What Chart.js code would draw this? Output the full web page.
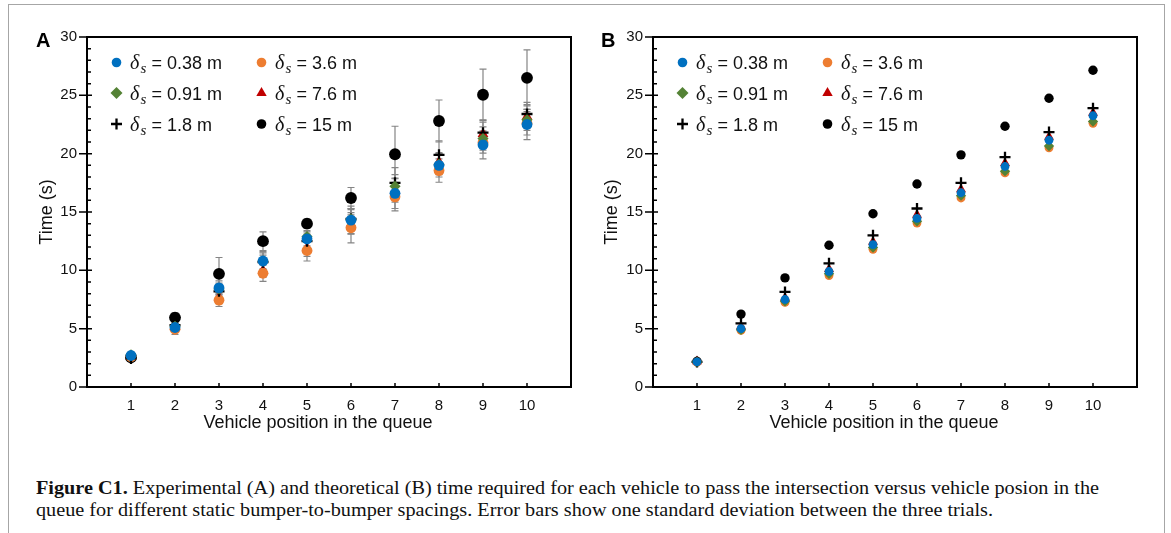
<!DOCTYPE html>
<html><head><meta charset="utf-8">
<script src="https://cdn.jsdelivr.net/npm/chart.js@4.4.0/dist/chart.umd.min.js"></script>
<style>
html,body{margin:0;padding:0;background:#fff;width:1171px;height:533px;overflow:hidden;position:relative;}
#frame{position:absolute;left:8px;top:4px;width:1155px;height:600px;border:1.5px solid #a6a6a6;}
canvas{position:absolute;top:0;}
#cA{left:0px;}
#cB{left:565px;}
.cap{position:absolute;left:36px;font-family:"Liberation Serif",serif;font-size:19px;line-height:22px;white-space:nowrap;transform-origin:0 0;color:#111;}
</style></head><body>
<div id="frame"></div>
<canvas id="cA" width="600" height="440"></canvas>
<canvas id="cB" width="600" height="440"></canvas>
<div class="cap" id="cap1"><b>Figure C1.</b> Experimental (A) and theoretical (B) time required for each vehicle to pass the intersection versus vehicle posion in the</div>
<div class="cap" id="cap2">queue for different static bumper-to-bumper spacings. Error bars show one standard deviation between the three trials.</div>
<script>
// ---------- data ----------
const positions = [1, 2, 3, 4, 5, 6, 7, 8, 9, 10];
const yTickValues = [0, 5, 10, 15, 20, 25, 30];
const spacingLabels = ['0.38', '0.91', '1.8', '3.6', '7.6', '15'];

// Panel A: experimental mean times (s)
const expS038 = [2.7, 5.1, 8.5, 10.8, 12.7, 14.3, 16.6, 19.0, 20.75, 22.5];
const expS091 = [2.75, 5.2, 8.4, 10.8, 12.9, 14.4, 17.2, 19.1, 21.3, 22.9];
const expS18  = [2.45, 5.3, 8.2, 10.7, 12.5, 14.4, 17.5, 19.9, 21.8, 23.4];
const expS36  = [2.6, 4.95, 7.45, 9.75, 11.7, 13.65, 16.3, 18.55, 20.95, 22.6];
const expS76  = [2.6, 5.15, 7.65, 10.0, 11.9, 13.95, 16.85, 19.3, 21.7, 23.2];
const expS15  = [2.55, 5.95, 9.7, 12.5, 14.0, 16.2, 19.95, 22.8, 25.05, 26.5];

// Panel A: standard deviations (s)
const errS038 = [0.3, 0.3, 0.6, 0.8, 0.6, 1.2, 1.3, 1.0, 1.2, 1.3];
const errS091 = [0.2, 0.3, 0.5, 0.7, 0.5, 0.8, 1.0, 0.9, 1.0, 0.9];
const errS18  = [0.2, 0.3, 0.5, 0.6, 0.6, 0.9, 1.3, 1.2, 1.1, 1.0];
const errS36  = [0.3, 0.45, 0.55, 0.7, 0.9, 1.3, 1.2, 1.0, 0.9, 1.0];
const errS76  = [0.2, 0.3, 0.5, 0.6, 0.7, 0.8, 1.0, 0.8, 1.0, 1.0];
const errS15  = [0.3, 0.4, 1.4, 0.8, 0.4, 0.9, 2.4, 1.8, 2.2, 2.4];

// Panel B: theoretical times (s)
const thS038 = [2.15, 5.0, 7.5, 9.9, 12.2, 14.45, 16.65, 18.9, 21.15, 23.25];
const thS091 = [2.15, 4.9, 7.35, 9.7, 11.95, 14.2, 16.4, 18.5, 20.65, 22.75];
const thS18  = [2.15, 5.45, 8.15, 10.6, 13.0, 15.3, 17.5, 19.7, 21.85, 23.9];
const thS36  = [2.1, 4.85, 7.25, 9.55, 11.8, 14.05, 16.2, 18.35, 20.5, 22.6];
const thS76  = [2.2, 5.2, 7.65, 10.1, 12.45, 14.75, 16.95, 19.2, 21.45, 23.5];
const thS15  = [2.2, 6.25, 9.35, 12.15, 14.85, 17.4, 19.9, 22.35, 24.75, 27.15];

// ---------- styles ----------
const seriesStyles = [
  {pointStyle: 'circle',   color: '#0070C0'},
  {pointStyle: 'rectRot',  color: '#548235'},
  {pointStyle: 'cross',    color: '#000000'},
  {pointStyle: 'circle',   color: '#ED7D31'},
  {pointStyle: 'triangle', color: '#C00000'},
  {pointStyle: 'circle',   color: '#000000'}
];

function buildDatasets(seriesList, big) {
  return seriesList.map((vals, k) => {
    const st = seriesStyles[k];
    let r;
    if (st.pointStyle === 'circle') r = big ? 5.4 : 4.4;
    else if (st.pointStyle === 'rectRot') r = big ? 5.6 : 5.2;
    else if (st.pointStyle === 'triangle') r = big ? 6.2 : 5.8;
    else r = 5.5;
    if (k === 5) r = big ? 5.9 : 4.7;
    const isCross = st.pointStyle === 'cross';
    return {
      label: 'δs = ' + spacingLabels[k] + ' m',
      data: positions.map((x, i) => ({x: x, y: vals[i]})),
      pointStyle: st.pointStyle,
      pointRadius: r,
      pointHoverRadius: r,
      backgroundColor: st.color,
      borderColor: st.color,
      borderWidth: isCross ? 2.3 : 0,
      showLine: false
    };
  });
}

function makePlugin(cfg) {
  return {
    id: 'decor',
    beforeDatasetsDraw(chart) {
      if (!cfg.errors) return;
      const ctx = chart.ctx, xs = chart.scales.x, ys = chart.scales.y;
      ctx.save();
      ctx.strokeStyle = '#858585';
      ctx.lineWidth = 1.2;
      chart.data.datasets.forEach((ds, k) => {
        const err = cfg.errors[k];
        ds.data.forEach((p, i) => {
          const px = xs.getPixelForValue(p.x);
          const y1 = ys.getPixelForValue(p.y + err[i]);
          const y2 = ys.getPixelForValue(p.y - err[i]);
          ctx.beginPath();
          ctx.moveTo(px, y1); ctx.lineTo(px, y2);
          ctx.moveTo(px - 3.5, y1); ctx.lineTo(px + 3.5, y1);
          ctx.moveTo(px - 3.5, y2); ctx.lineTo(px + 3.5, y2);
          ctx.stroke();
        });
      });
      ctx.restore();
    },
    afterDraw(chart) {
      const ctx = chart.ctx, a = chart.chartArea, xs = chart.scales.x, ys = chart.scales.y;
      ctx.save();
      ctx.strokeStyle = '#000';
      ctx.lineWidth = 2;
      ctx.strokeRect(a.left, a.top, a.right - a.left, a.bottom - a.top);
      ctx.lineWidth = 1.5;
      ctx.beginPath();
      for (let v = ys.min; v <= ys.max; v += 1) {
        const py = ys.getPixelForValue(v);
        if (v % 5 === 0) { ctx.moveTo(a.left - 8, py); ctx.lineTo(a.left + 5, py); }
        else { ctx.moveTo(a.left, py); ctx.lineTo(a.left + 4, py); }
      }
      positions.forEach(x => {
        const px = xs.getPixelForValue(x);
        ctx.moveTo(px, a.bottom); ctx.lineTo(px, a.bottom - 4);
      });
      ctx.stroke();

      ctx.fillStyle = '#000';
      ctx.font = 'bold 20px "Liberation Sans", Arial';
      ctx.textAlign = 'left';
      ctx.textBaseline = 'middle';
      ctx.fillText(cfg.letter, cfg.letterX, 41);

      ctx.font = '18px "Liberation Sans", Arial';
      ctx.fillStyle = '#111';
      ctx.textAlign = 'center';
      ctx.textBaseline = 'middle';
      ctx.fillText('Vehicle position in the queue', cfg.xTitleX, 423);
      ctx.save();
      ctx.translate(cfg.yTitleX, (a.top + a.bottom) / 2);
      ctx.rotate(-Math.PI / 2);
      ctx.fillText('Time (s)', 0, 0);
      ctx.restore();

      const order = [[0, 1, 2], [3, 4, 5]];
      const colX = [a.left + 29.5, a.left + 174.5];
      const rowY = [62.5, 93, 124];
      order.forEach((col, c) => {
        col.forEach((k, r) => {
          const ds = chart.data.datasets[k];
          const mx = colX[c], my = rowY[r];
          ctx.save();
          ctx.fillStyle = ds.backgroundColor;
          ctx.strokeStyle = ds.borderColor;
          ctx.lineWidth = ds.borderWidth || 1;
          Chart.helpers.drawPoint(ctx, {
            pointStyle: ds.pointStyle,
            radius: ds.pointStyle === 'cross' ? 5.5 : (ds.pointStyle === 'circle' ? 4.8 : 6),
            rotation: 0,
            borderWidth: ds.borderWidth
          }, mx, my);
          ctx.restore();
          const tx = mx + 13.5;
          const base = my + 6.5;
          ctx.fillStyle = '#111';
          ctx.textAlign = 'left';
          ctx.textBaseline = 'alphabetic';
          ctx.font = 'italic 20px "Liberation Serif", serif';
          ctx.fillText('δ', tx, base);
          ctx.font = 'italic 15px "Liberation Serif", serif';
          ctx.fillText('s', tx + 10.5, base + 4);
          ctx.font = '18px "Liberation Sans", Arial';
          ctx.fillText('= ' + spacingLabels[k] + ' m', tx + 21.5, base);
        });
      });
      ctx.restore();
    }
  };
}

function makeChart(id, datasets, cfg, yWidth, rightPad) {
  return new Chart(document.getElementById(id), {
    type: 'scatter',
    data: {datasets: datasets},
    options: {
      responsive: false,
      animation: false,
      events: [],
      layout: {padding: {left: 0, right: rightPad, top: 37, bottom: 0}},
      plugins: {legend: {display: false}, tooltip: {enabled: false}},
      scales: {
        x: {
          type: 'linear', min: 0, max: 11,
          grid: {display: false, drawTicks: false},
          border: {display: false},
          afterBuildTicks: (s) => { s.ticks = positions.map(v => ({value: v})); },
          afterFit: (s) => { s.height = 53; },
          ticks: {
            padding: 10, color: '#111', maxRotation: 0, autoSkip: false,
            font: {family: '"Liberation Sans", Arial', size: 15}
          }
        },
        y: {
          min: 0, max: 30,
          grid: {display: false, drawTicks: false},
          border: {display: false},
          afterBuildTicks: (s) => { s.ticks = yTickValues.map(v => ({value: v})); },
          afterFit: (s) => { s.width = yWidth; },
          ticks: {
            padding: 10, color: '#111',
            font: {family: '"Liberation Sans", Arial', size: 15}
          }
        }
      }
    },
    plugins: [makePlugin(cfg)]
  });
}

makeChart('cA',
  buildDatasets([expS038, expS091, expS18, expS36, expS76, expS15], true),
  {letter: 'A', letterX: 36, xTitleX: 318, yTitleX: 47,
   errors: [errS038, errS091, errS18, errS36, errS76, errS15]},
  87, 29);

makeChart('cB',
  buildDatasets([thS038, thS091, thS18, thS36, thS76, thS15], false),
  {letter: 'B', letterX: 601 - 565, xTitleX: 884 - 565, yTitleX: 612 - 565, errors: null},
  88, 28);

(function () {
  const c1 = document.getElementById('cap1'), c2 = document.getElementById('cap2');
  const w = c1.getBoundingClientRect().width;
  const s = (1099 - 36) / w;
  c1.style.transform = 'scaleX(' + s + ')';
  c2.style.transform = 'scaleX(' + s + ')';
  c1.style.top = '477px';
  c2.style.top = '499px';
})();
</script>
</body></html>
